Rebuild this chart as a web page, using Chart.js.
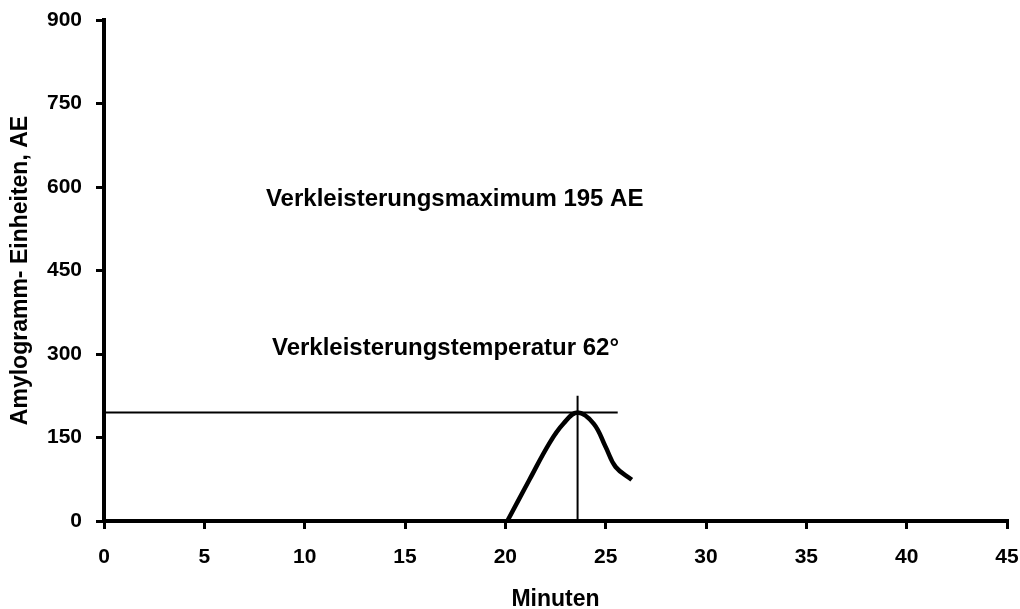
<!DOCTYPE html>
<html>
<head>
<meta charset="utf-8">
<script src="https://cdn.jsdelivr.net/npm/chart.js@4.4.1/dist/chart.umd.min.js"></script>
<style>
  html, body { margin: 0; padding: 0; background: #fff; }
  #wrap { width: 1020px; height: 609px; }
</style>
</head>
<body>
<div id="wrap"><canvas id="amyloChart"></canvas></div>
<script>
const curveX = [20.1, 21.2, 22.2, 22.9, 23.6, 24.4, 25.0, 25.5, 26.3];
const curveY = [0, 74, 140, 175, 195, 175, 133, 97, 74];
const maxLineX = [0, 25.6];
const maxLineY = [195, 195];
const tempLineX = [23.6, 23.6];
const tempLineY = [0, 225];
const xTicks = [0, 5, 10, 15, 20, 25, 30, 35, 40, 45];
const yTicks = [0, 150, 300, 450, 600, 750, 900];
const notes = [
    { text: "Verkleisterungsmaximum 195 AE", x: 8.07, y: 577 },
    { text: "Verkleisterungstemperatur 62°", x: 8.37, y: 311 }
];

const fontFam = "'Liberation Sans', Arial, sans-serif";

function toPoints(xs, ys) {
    return xs.map((x, i) => ({ x: x, y: ys[i] }));
}

const notePlugin = {
    id: "notes",
    afterDatasetsDraw(chart) {
        const ctx = chart.ctx;
        const xs = chart.scales.x;
        const ys = chart.scales.y;
        ctx.save();
        ctx.fillStyle = "#000";
        ctx.font = "bold 24px " + fontFam;
        ctx.textBaseline = "middle";
        ctx.textAlign = "left";
        notes.forEach(n => {
            ctx.fillText(n.text, xs.getPixelForValue(n.x), ys.getPixelForValue(n.y));
        });
        ctx.restore();
    }
};

new Chart("amyloChart", {
    type: "scatter",
    data: {
        datasets: [
            {
                label: "Amylogramm",
                data: toPoints(curveX, curveY),
                showLine: true,
                borderColor: "#000",
                borderWidth: 4.5,
                pointRadius: 0,
                tension: 0.4
            },
            {
                label: "Maximum",
                data: toPoints(maxLineX, maxLineY),
                showLine: true,
                borderColor: "#000",
                borderWidth: 2,
                pointRadius: 0
            },
            {
                label: "Temperatur",
                data: toPoints(tempLineX, tempLineY),
                showLine: true,
                borderColor: "#000",
                borderWidth: 2,
                pointRadius: 0
            }
        ]
    },
    options: {
        responsive: true,
        maintainAspectRatio: false,
        animation: false,
        layout: { padding: { top: 20, right: 13, left: 0, bottom: 0 } },
        plugins: {
            legend: { display: false },
            tooltip: { enabled: false }
        },
        scales: {
            x: {
                type: "linear",
                min: 0,
                max: 45,
                afterBuildTicks: s => { s.ticks = xTicks.map(v => ({ value: v })); },
                afterFit: s => {
                    s.height = 88;
                    s.paddingLeft = 0;
                    s.paddingRight = 0;
                },
                border: { display: true, color: "#000", width: 4 },
                grid: { drawOnChartArea: false, color: "#000", tickLength: 8, lineWidth: 3 },
                ticks: {
                    color: "#000",
                    padding: 16,
                    font: { family: fontFam, size: 21, weight: "bold" }
                },
                title: {
                    display: true,
                    text: "Minuten",
                    color: "#000",
                    padding: { top: 0, bottom: -4 },
                    font: { family: fontFam, size: 23, weight: "bold" }
                }
            },
            y: {
                min: 0,
                max: 900,
                afterBuildTicks: s => { s.ticks = yTicks.map(v => ({ value: v })); },
                afterFit: s => {
                    s.width = 104;
                    s.paddingTop = 0;
                    s.paddingBottom = 0;
                },
                border: { display: true, color: "#000", width: 4 },
                grid: { drawOnChartArea: false, color: "#000", tickLength: 8, lineWidth: 3 },
                ticks: {
                    color: "#000",
                    padding: 14,
                    font: { family: fontFam, size: 21, weight: "bold" }
                },
                title: {
                    display: true,
                    text: "Amylogramm- Einheiten, AE",
                    color: "#000",
                    padding: { top: 7, bottom: 0 },
                    font: { family: fontFam, size: 23, weight: "bold" }
                }
            }
        }
    },
    plugins: [notePlugin]
});
</script>
</body>
</html>
